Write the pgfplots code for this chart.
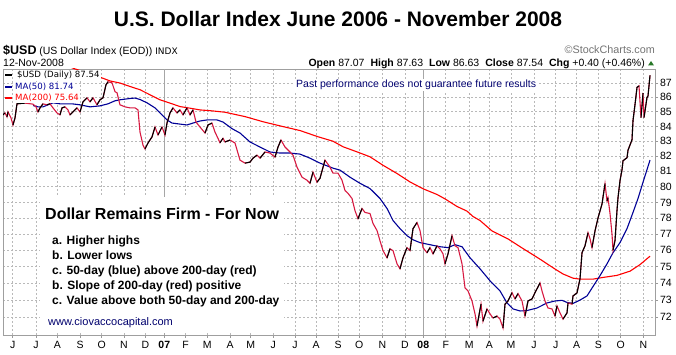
\documentclass[border=0pt]{standalone}
\usepackage{fontspec}
\setmainfont{Liberation Sans}
\newfontfamily\dejavu{DejaVu Sans}
\usepackage{pgfplots}
\pgfplotsset{compat=1.18}
\usepackage{pgfplotstable}
\definecolor{pricered}{RGB}{215,25,65}
\definecolor{manavy}{RGB}{0,0,150}
\definecolor{mared}{RGB}{255,0,0}
\definecolor{gridgray}{RGB}{185,185,185}
\definecolor{txtnavy}{RGB}{0,0,110}
\definecolor{upgreen}{RGB}{40,120,40}

% x = trading-day index (about 1 per session), y = index value
\pgfplotstableread{
x y
3 84.79
5 84.92
7 84.65
8 84.99
11 84.58
13 84.10
15 84.58
17 85.55
25 85.60
33 85.53
36 85.34
38 84.99
40 85.27
43 85.55
47 85.48
50 85.55
53 85.27
57 84.92
60 84.79
62 85.27
65 85.34
68 85.13
70 84.79
73 84.99
77 85.27
80 84.99
83 85.69
87 85.97
90 85.69
93 85.97
97 85.48
100 85.83
103 85.97
106 86.88
108 87.09
112 87.02
115 86.39
117 86.32
120 85.48
125 85.34
130 85.27
135 85.27
138 85.13
140 83.62
143 82.74
145 82.48
148 82.88
152 83.29
155 83.96
158 83.42
162 83.96
165 83.42
167 84.23
170 84.92
173 85.27
177 84.92
180 85.13
183 84.79
187 85.27
190 84.79
193 85.13
196 84.30
200 83.96
205 83.55
208 84.10
212 84.23
215 83.62
220 82.90
223 83.20
225 82.95
230 83.08
235 82.88
240 81.74
245 81.54
250 81.61
253 81.87
257 82.07
260 81.87
265 82.28
270 82.21
275 81.94
278 82.61
281 83.08
285 82.61
290 82.28
293 82.07
297 81.28
302 80.62
307 80.42
310 80.22
313 80.95
317 80.29
320 80.55
325 81.74
330 81.28
333 80.88
338 80.88
342 80.42
345 79.77
348 79.58
352 79.25
355 78.48
358 77.97
362 78.61
365 78.36
370 78.29
373 77.66
377 77.22
380 76.59
383 75.97
387 75.54
390 76.09
393 75.97
397 75.17
400 74.87
403 75.54
407 76.16
410 75.97
413 77.34
417 77.72
420 77.22
423 76.16
427 75.85
430 76.16
433 75.78
437 76.28
440 76.09
443 75.78
445 75.17
448 75.78
452 76.90
455 76.28
458 76.16
462 75.17
465 73.72
468 73.54
472 72.94
475 72.18
477 71.47
481 72.76
483 71.76
487 72.47
490 72.18
493 71.94
497 72.06
500 71.88
503 71.36
505 72.76
508 72.94
512 73.44
515 73.06
518 73.38
522 72.94
525 72.06
528 72.94
532 73.06
535 73.44
540 74.02
542 73.54
545 72.94
548 72.53
552 72.47
555 72.06
557 72.65
560 72.24
563 71.88
567 72.24
568 72.82
572 72.76
573 73.24
577 73.42
580 74.26
582 75.85
585 76.28
588 77.09
590 76.72
592 76.16
595 77.20
598 78.00
602 78.90
605 80.20
607 79.10
608 79.30
610 78.30
612 77.00
613 76.00
615 76.60
617 78.50
618 79.30
620 80.40
622 81.10
623 81.70
627 81.90
628 82.40
632 83.10
633 84.40
635 85.50
637 86.70
639 86.80
641 84.60
643 86.30
644 84.60
647 86.00
648 86.10
650 87.54
}\price

% rising sessions (drawn black), separated by nan
\pgfplotstableread{
x y
3 84.79
5 84.92
nan nan
7 84.65
8 84.99
nan nan
13 84.10
15 84.58
17 85.55
25 85.60
nan nan
38 84.99
40 85.27
43 85.55
nan nan
47 85.48
50 85.55
nan nan
60 84.79
62 85.27
65 85.34
nan nan
70 84.79
73 84.99
77 85.27
nan nan
80 84.99
83 85.69
87 85.97
nan nan
90 85.69
93 85.97
nan nan
97 85.48
100 85.83
103 85.97
106 86.88
108 87.09
nan nan
145 82.48
148 82.88
152 83.29
155 83.96
nan nan
158 83.42
162 83.96
nan nan
165 83.42
167 84.23
170 84.92
173 85.27
nan nan
177 84.92
180 85.13
nan nan
183 84.79
187 85.27
nan nan
190 84.79
193 85.13
nan nan
205 83.55
208 84.10
212 84.23
nan nan
220 82.90
223 83.20
nan nan
225 82.95
230 83.08
nan nan
245 81.54
250 81.61
253 81.87
257 82.07
nan nan
260 81.87
265 82.28
nan nan
275 81.94
278 82.61
281 83.08
nan nan
310 80.22
313 80.95
nan nan
317 80.29
320 80.55
325 81.74
nan nan
358 77.97
362 78.61
nan nan
387 75.54
390 76.09
nan nan
400 74.87
403 75.54
407 76.16
nan nan
410 75.97
413 77.34
417 77.72
nan nan
427 75.85
430 76.16
nan nan
433 75.78
437 76.28
nan nan
445 75.17
448 75.78
452 76.90
nan nan
477 71.47
481 72.76
nan nan
483 71.76
487 72.47
nan nan
493 71.94
497 72.06
nan nan
503 71.36
505 72.76
508 72.94
512 73.44
nan nan
515 73.06
518 73.38
nan nan
525 72.06
528 72.94
532 73.06
535 73.44
540 74.02
nan nan
555 72.06
557 72.65
nan nan
563 71.88
567 72.24
568 72.82
nan nan
572 72.76
573 73.24
577 73.42
580 74.26
582 75.85
585 76.28
588 77.09
nan nan
592 76.16
595 77.20
598 78.00
602 78.90
605 80.20
nan nan
607 79.10
608 79.30
nan nan
613 76.00
615 76.60
617 78.50
618 79.30
620 80.40
622 81.10
623 81.70
627 81.90
628 82.40
632 83.10
633 84.40
635 85.50
637 86.70
639 86.80
nan nan
641 84.60
643 86.30
nan nan
644 84.60
647 86.00
648 86.10
650 87.54
}\priceup

\pgfplotstableread{
x y
33 85.43
38 85.34
43 85.34
53 85.62
60 85.55
72 85.55
80 85.48
90 85.34
100 85.41
108 85.55
115 85.76
120 85.83
130 85.92
135 85.95
140 85.85
147 85.62
155 85.27
162 84.79
167 84.44
172 84.23
180 84.16
187 84.10
193 84.23
200 84.37
207 84.44
217 84.44
223 84.30
232 83.85
240 83.55
250 82.95
260 82.61
270 82.28
280 82.21
290 82.21
300 82.14
310 81.87
320 81.54
333 81.21
340 81.08
350 80.62
360 80.22
370 79.90
380 79.25
387 78.61
393 77.85
400 77.34
407 76.90
413 76.65
420 76.47
430 76.34
440 76.22
448 76.16
455 76.34
462 76.22
470 75.54
480 74.87
490 74.14
500 73.54
507 72.82
513 72.47
520 72.35
527 72.38
537 72.53
547 72.82
555 72.94
562 72.98
567 72.85
573 72.80
580 73.00
587 73.24
593 73.80
600 74.45
607 75.17
613 75.85
620 76.47
627 77.34
633 78.36
638 79.25
643 80.29
650 81.74
}\mafifty

\pgfplotstableread{
x y
3 90.20
40 89.00
75 88.00
95 87.55
110 87.15
120 87.00
130 86.76
140 86.53
150 86.18
160 85.83
170 85.60
180 85.36
190 85.25
200 85.13
210 85.08
225 84.97
245 84.67
263 84.32
281 84.02
300 83.72
318 83.30
333 83.00
343 82.63
357 82.29
370 81.96
383 81.40
397 80.86
410 80.31
423 79.88
437 79.51
445 79.23
457 78.75
467 78.45
473 78.10
480 77.85
492 77.20
508 76.70
523 76.10
540 75.45
555 74.85
563 74.55
573 74.30
580 74.24
593 74.24
603 74.35
617 74.47
630 74.72
640 75.12
650 75.64
}\matwohundred

\begin{document}
\begin{tikzpicture}
\path[use as bounding box] (0pt,0pt) rectangle (676pt,-355pt);
\begin{axis}[
  at={(3pt,-335pt)}, anchor=south west,
  scale only axis, width=652pt, height=266pt,
  xmin=3, xmax=655,
  ymode=log, ymin=70.96, ymax=88.0,
  xtick={12.7,36,57.3,80,101.7,124,145.3,164.3,185.7,207.3,230,250.7,273.3,295,316,338,359.3,382.3,405,423.3,445.7,469.3,489.3,511,534,555.7,576.7,598.3,620.7,643.3},
  xticklabels={J,J,A,S,O,N,D,\textbf{07},F,M,A,M,J,J,A,S,O,N,D,\textbf{08},F,M,A,M,J,J,A,S,O,N},
  ytick={72,73,74,75,76,77,78,79,80,81,82,83,84,85,86,87},
  yticklabels={72,73,74,75,76,77,78,79,80,81,82,83,84,85,86,87},
  yticklabel pos=right, ytick pos=right, xtick pos=bottom,
  tick align=outside, major tick length=3pt,
  tick style={gray!80, line width=0.6pt},
  axis line style={gray!75, line width=0.7pt},
  grid=major,
  major grid style={gridgray, dash pattern=on 2.2pt off 1.8pt, line width=0.6pt},
  extra x ticks={164.3,423.3}, extra x tick labels={},
  extra x tick style={grid=major, major grid style={gray!70, solid, line width=0.8pt}},
  yticklabel style={xshift=-1.5pt},
  tick label style={font=\fontsize{10.5}{12}\selectfont},
  /pgf/number format/assume math mode=true,
  unbounded coords=jump,
]
\addplot[mared, line width=1.1pt] table[x=x,y=y] {\matwohundred};
\addplot[manavy, line width=1.1pt] table[x=x,y=y] {\mafifty};
\addplot[pricered, line width=1.1pt] table[x=x,y=y] {\price};
\addplot[black, line width=1.1pt] table[x=x,y=y] {\priceup};
\end{axis}

\begin{scope}[x=1pt,y=-1pt]
% title
\node[anchor=base, inner sep=0pt, font=\fontsize{21}{24}\selectfont\bfseries] at (338,26.5) {U.S. Dollar Index June 2006 - November 2008};
% header
\node[anchor=base west, inner sep=0pt] at (3,55) {{\fontsize{12.5}{14}\selectfont\bfseries \$USD} {\fontsize{10.5}{12}\selectfont (US Dollar Index (EOD))} {\dejavu\fontsize{9}{11}\selectfont INDX}};
\node[anchor=base west, inner sep=0pt, font=\fontsize{10.5}{12}\selectfont] at (3,67) {12-Nov-2008};
\node[anchor=base east, inner sep=0pt, text=gray!90!black, font=\fontsize{10.8}{12}\selectfont] at (655,53.5) {\textcopyright StockCharts.com};
\node[anchor=base east, inner sep=0pt, font=\fontsize{10.5}{12}\selectfont] at (645,67) {\textbf{Open} 87.07\hspace{6pt}\textbf{High} 87.63\hspace{6pt}\textbf{Low} 86.63\hspace{6pt}\textbf{Close} 87.54\hspace{6pt}\textbf{Chg} +0.40 (+0.46\%)};
\fill[upgreen] (648,65.5) -- (654,65.5) -- (651,61) -- cycle;
% legend
\node[anchor=west, fill=white, inner sep=1pt, font=\dejavu\fontsize{8.6}{9}\selectfont] at (16,75) {\$USD (Daily) 87.54};
\node[anchor=west, fill=white, inner sep=1pt, text=manavy, font=\dejavu\fontsize{8.6}{9}\selectfont] at (14,86.7) {MA(50) 81.74};
\node[anchor=west, fill=white, inner sep=1pt, text=mared, font=\dejavu\fontsize{8.6}{9}\selectfont] at (14,98.3) {MA(200) 75.64};
\draw[black, line width=2pt] (5,75) -- (12,75);
\draw[manavy, line width=2pt] (5,86.7) -- (12,86.7);
\draw[mared, line width=2pt] (5,98.3) -- (12,98.3);
% disclaimer
\node[anchor=base west, fill=white, inner sep=1pt, text=txtnavy, font=\fontsize{10.5}{12}\selectfont] at (295,88) {Past performance does not guarantee future results};
% annotation box
\fill[white] (40,197) rectangle (284,332.5);
\node[anchor=base west, inner sep=0pt, font=\fontsize{16}{18}\selectfont\bfseries] at (45,219.3) {Dollar Remains Firm - For Now};
\begin{scope}[every node/.style={anchor=base west, inner sep=0pt, font=\fontsize{12}{14}\selectfont\bfseries}]
\node at (52,244.3) {a. Higher highs};
\node at (52,259.3) {b. Lower lows};
\node at (52,274.3) {c. 50-day (blue) above 200-day (red)};
\node at (52,289.3) {b. Slope of 200-day (red) positive};
\node at (52,304.3) {c. Value above both 50-day and 200-day};
\end{scope}
\node[anchor=base west, inner sep=0pt, text=txtnavy, font=\fontsize{11}{13}\selectfont] at (48,325) {www.ciovaccocapital.com};
\end{scope}
\end{tikzpicture}
\end{document}
